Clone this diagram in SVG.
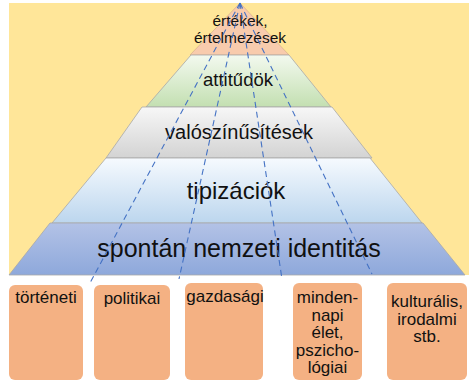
<svg xmlns="http://www.w3.org/2000/svg" width="469" height="381" viewBox="0 0 469 381">
<defs>
<linearGradient id="gGreen" x1="0" y1="0" x2="0" y2="1"><stop offset="0" stop-color="#F3F9EF"/><stop offset="1" stop-color="#C3DFB1"/></linearGradient>
<linearGradient id="gGray" x1="0" y1="0" x2="0" y2="1"><stop offset="0" stop-color="#F7F7F7"/><stop offset="1" stop-color="#D3D3D3"/></linearGradient>
<linearGradient id="gLBlue" x1="0" y1="0" x2="0" y2="1"><stop offset="0" stop-color="#F6FAFE"/><stop offset="1" stop-color="#BCD6EE"/></linearGradient>
<linearGradient id="gBlue" x1="0" y1="0" x2="0" y2="1"><stop offset="0" stop-color="#B3C2E6"/><stop offset="1" stop-color="#8EA8DB"/></linearGradient>
<style>
.layer{stroke:#A8A8A8;stroke-width:0.8;stroke-linejoin:round}
.box{fill:#F4B183}
.t{font-family:"Liberation Sans",Arial,sans-serif;fill:#111;text-anchor:middle}
.bt{font-size:17px}
.dash{fill:none;stroke:#4472C4;stroke-width:1.1;stroke-dasharray:6 4}
</style>
</defs>
<rect id="background" x="9" y="3" width="460" height="272" fill="#FFE699"/>
<g id="layer-ertekek">
<polygon points="240,3 289,55 190,55" fill="#F8CBAD" stroke="#C9A080" stroke-width="0.5"/>
<text class="t" x="240" y="26" font-size="15.5">értékek,</text>
<text class="t" x="240" y="43" font-size="15.5">értelmezések</text>
</g>
<g id="layer-attitudok">
<polygon class="layer" points="191,55 289,55 331,107 146,107" fill="url(#gGreen)" stroke="none"/>
<text class="t" x="238" y="86" font-size="18.5">attitűdök</text>
</g>
<g id="layer-valoszinusitesek">
<polygon class="layer" points="142,107 332,107 372,158 106,158" fill="url(#gGray)"/>
<text class="t" x="239" y="139" font-size="20">valószínűsítések</text>
</g>
<g id="layer-tipizaciok">
<polygon class="layer" points="106,158 370,158 422,223 52,223" fill="url(#gLBlue)"/>
<text class="t" x="236" y="199" font-size="24">tipizációk</text>
</g>
<g id="layer-spontan">
<polygon class="layer" points="50,223 423,223 465,275 9,275" fill="url(#gBlue)"/>
<text class="t" x="239" y="257" font-size="25">spontán nemzeti identitás</text>
</g>
<g id="box-torteneti">
<rect class="box" x="9" y="285" width="74" height="95" rx="6"/>
<text class="t bt" x="46" y="303">történeti</text>
</g>
<g id="box-politikai">
<rect class="box" x="94" y="285" width="76" height="95" rx="6"/>
<text class="t bt" x="132" y="304">politikai</text>
</g>
<g id="box-gazdasagi">
<rect class="box" x="185" y="283" width="78" height="97" rx="6"/>
<text class="t bt" x="225" y="302">gazdasági</text>
</g>
<g id="box-mindennapi">
<rect class="box" x="293" y="283" width="69" height="97" rx="6"/>
<text class="t bt" x="327.5" y="303">minden-</text>
<text class="t bt" x="327.5" y="320.5">napi</text>
<text class="t bt" x="327.5" y="338">élet,</text>
<text class="t bt" x="327.5" y="355.5">pszicho-</text>
<text class="t bt" x="327.5" y="373">lógiai</text>
</g>
<g id="box-kulturalis">
<rect class="box" x="387" y="283" width="80" height="97" rx="6"/>
<text class="t bt" x="427" y="307" font-size="16.5">kulturális,</text>
<text class="t bt" x="427" y="324.5" font-size="16.5">irodalmi</text>
<text class="t bt" x="427" y="342" font-size="16.5">stb.</text>
</g>
<g id="connectors">
<line class="dash" x1="240" y1="3" x2="90" y2="283"/>
<line class="dash" x1="240" y1="3" x2="179" y2="279"/>
<line class="dash" x1="240" y1="3" x2="282" y2="279"/>
<line class="dash" x1="240" y1="3" x2="372" y2="274"/>
</g>
</svg>
